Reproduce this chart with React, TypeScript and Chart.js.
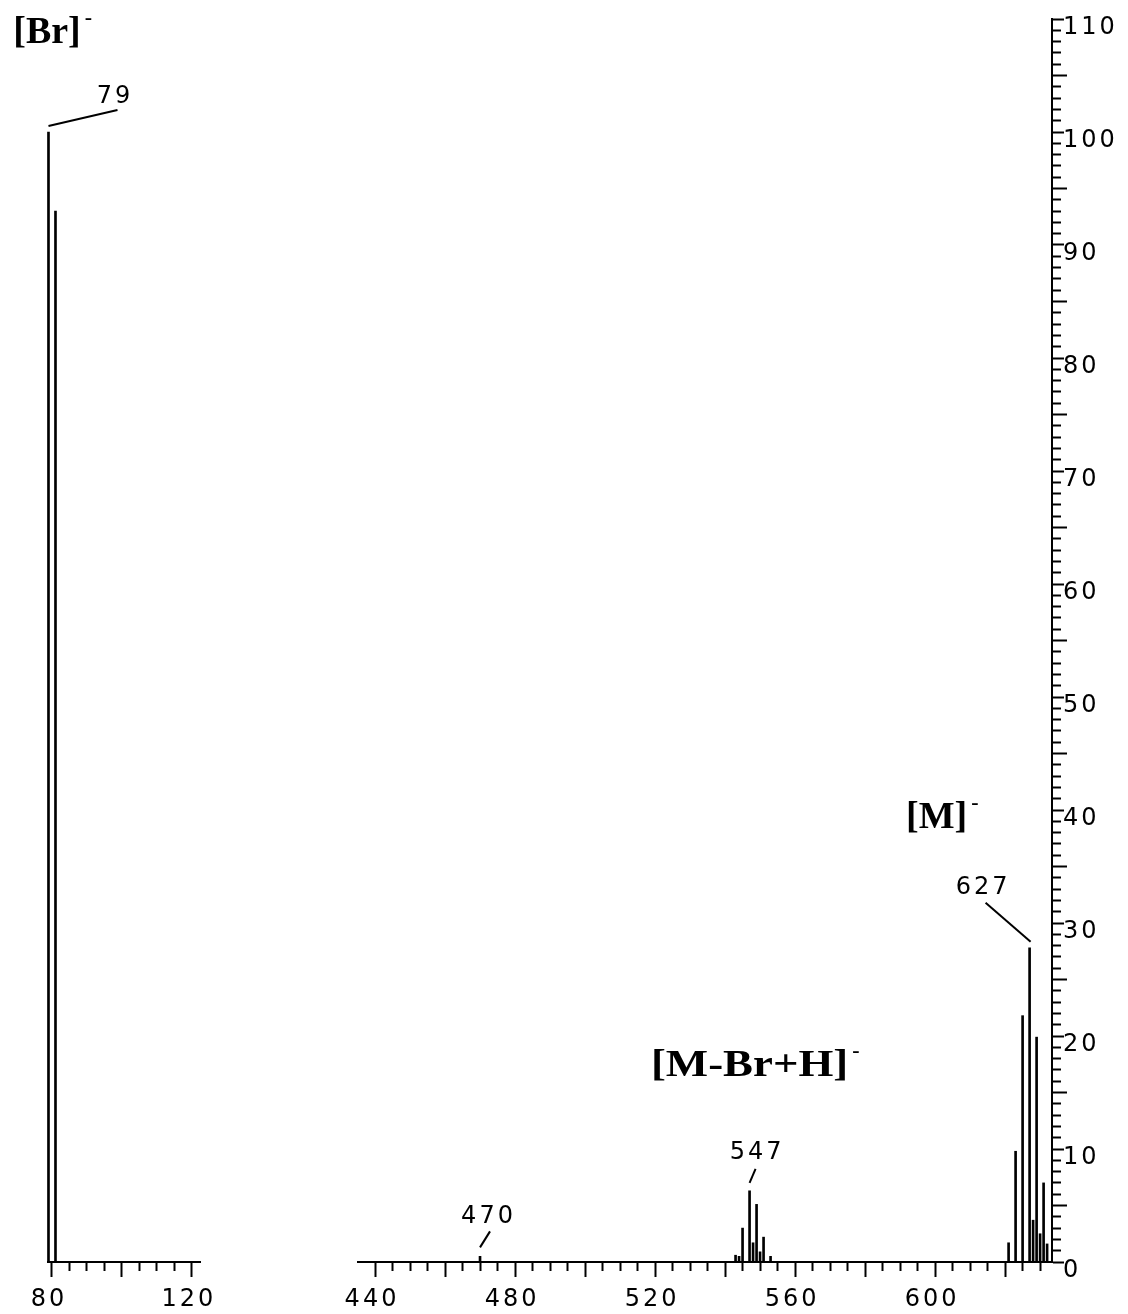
import React, { useEffect, useRef } from 'react';
import { Chart, registerables } from 'chart.js';

Chart.register(...registerables);

// ---------------- data ----------------
const lowMz: number[] = [79, 81];
const lowIntensity: number[] = [100, 93];

const highMz: number[] = [470, 543, 544, 545, 547, 548, 549, 550, 551, 553, 621, 623, 625, 627, 628, 629, 630, 631, 632];
const highIntensity: number[] = [0.5, 0.6, 0.5, 3.0, 6.3, 1.7, 5.1, 0.9, 2.2, 0.5, 1.7, 9.8, 21.8, 27.8, 3.7, 19.9, 2.5, 7.0, 1.6];

const lowTickLabels: number[] = [80, 120];
const highTickLabels: number[] = [440, 480, 520, 560, 600];
const yTickLabels: number[] = [0, 10, 20, 30, 40, 50, 60, 70, 80, 90, 100, 110];

const peakLabelMz: number[] = [79, 470, 547, 627];
const ionNames: string[] = ['[Br]', '[M-Br+H]', '[M]'];
const ionAnchorMz: number[] = [79, 547, 627];

// ---------------- layout / style ----------------
const W = 1128;
const H = 1314;
const TICK_FAMILY = '"DejaVu Sans", sans-serif';
const TICK_SIZE = 24;

// leader-line geometry relative to the peak top (px)
const leaderGeom: Record<number, { from: [number, number]; to: [number, number]; text: [number, number] }> = {
  79: { from: [0, -6], to: [69, -22], text: [65, -35] },
  470: { from: [0, -9], to: [10, -25], text: [7, -40] },
  547: { from: [0, -8], to: [6, -22], text: [6, -38] },
  627: { from: [1, -6], to: [-44, -45], text: [-48, -60] },
};
// ion label placement: x offset from anchor peak (px), baseline in intensity units, horizontal stretch
const ionPlacement: Record<string, { dx: number; yValue: number; stretch: number }> = {
  '[Br]': { dx: -1.5, yValue: 107.9, stretch: 1 },
  '[M-Br+H]': { dx: 0, yValue: 16.5, stretch: 1.18 },
  '[M]': { dx: -93, yValue: 38.4, stretch: 1 },
};

function annotationPlugin(mzList: number[], intensities: number[]) {
  return {
    id: 'spectrumAnnotations',
    beforeDraw(chart: any) {
      (chart.ctx as any).letterSpacing = '3px';
    },
    afterDraw(chart: any) {
      const ctx = chart.ctx as any;
      const xs = chart.scales.x;
      const ys = chart.scales.y;
      ctx.save();
      ctx.fillStyle = '#000';
      ctx.strokeStyle = '#000';
      ctx.lineWidth = 2;
      ctx.lineCap = 'butt';
      // peak labels with leader lines
      ctx.letterSpacing = '3px';
      ctx.font = `${TICK_SIZE}px ${TICK_FAMILY}`;
      ctx.textAlign = 'center';
      ctx.textBaseline = 'middle';
      peakLabelMz.forEach((m) => {
        const i = mzList.indexOf(m);
        if (i < 0) return;
        const px = xs.getPixelForValue(m);
        const py = ys.getPixelForValue(intensities[i]);
        const g = leaderGeom[m];
        ctx.beginPath();
        ctx.moveTo(px + g.from[0], py + g.from[1]);
        ctx.lineTo(px + g.to[0], py + g.to[1]);
        ctx.stroke();
        ctx.fillText(String(m), px + g.text[0] + 1.5, py + g.text[1]);
      });
      // ion labels
      ctx.letterSpacing = '0px';
      ionNames.forEach((name, k) => {
        const m = ionAnchorMz[k];
        if (mzList.indexOf(m) < 0) return;
        const p = ionPlacement[name];
        const cx = xs.getPixelForValue(m) + p.dx;
        const base = ys.getPixelForValue(p.yValue);
        ctx.font = 'bold 38px "Liberation Serif", "Times New Roman", serif';
        ctx.textAlign = 'center';
        ctx.textBaseline = 'alphabetic';
        const w = ctx.measureText(name).width * p.stretch;
        ctx.save();
        ctx.translate(cx, base);
        ctx.scale(p.stretch, 1);
        ctx.fillText(name, 0, 0);
        ctx.restore();
        ctx.font = 'bold 22px "Liberation Serif", "Times New Roman", serif';
        ctx.textAlign = 'left';
        ctx.fillText('-', cx + w / 2 + 4, base - 19);
      });
      ctx.restore();
      ctx.letterSpacing = '0px';
    },
  };
}

function makeConfig(kind: 'low' | 'high'): any {
  const isLow = kind === 'low';
  const mz = isLow ? lowMz : highMz;
  const inten = isLow ? lowIntensity : highIntensity;
  const xLabels = isLow ? lowTickLabels : highTickLabels;
  return {
    type: 'bar',
    data: {
      datasets: [
        {
          data: mz.map((m, i) => ({ x: m, y: inten[i] })),
          backgroundColor: '#000',
          borderWidth: 0,
          barThickness: 2,
          clip: false,
        },
      ],
    },
    options: {
      responsive: false,
      animation: false,
      devicePixelRatio: 1,
      events: [],
      layout: {
        padding: isLow
          ? { left: 48, right: W - 200, top: 19, bottom: 0 }
          : { left: 358, right: 0, top: 19, bottom: 0 },
      },
      plugins: { legend: { display: false }, tooltip: { enabled: false }, title: { display: false } },
      scales: {
        x: {
          type: 'linear',
          position: 'bottom',
          min: isLow ? 78.86 : 435.14,
          max: isLow ? 122.29 : 633.4,
          offset: false,
          afterFit: (s: any) => {
            s.height = H - 1262;
          },
          border: { display: true, color: '#000', width: 2 },
          grid: {
            display: true,
            offset: false,
            drawOnChartArea: false,
            drawTicks: true,
            tickLength: 15,
            tickWidth: 2,
            tickColor: '#000',
            tickBorderDash: (c: any) => (c.tick && c.tick.value % 20 === 0 ? [] : [8, 40]),
          },
          ticks: {
            stepSize: 5,
            autoSkip: false,
            includeBounds: false,
            maxTicksLimit: 1000,
            maxRotation: 0,
            minRotation: 0,
            color: '#000',
            padding: 8,
            labelOffset: -3,
            font: { family: TICK_FAMILY, size: TICK_SIZE },
            callback: (v: number) => (xLabels.includes(v) ? String(v) : ''),
          },
        },
        y: {
          type: 'linear',
          position: 'right',
          display: !isLow,
          min: 0,
          max: 110,
          afterFit: (s: any) => {
            s.width = isLow ? 0 : W - 1052;
          },
          border: { display: true, color: '#000', width: 2 },
          grid: {
            display: true,
            drawOnChartArea: false,
            drawTicks: true,
            tickLength: 15,
            tickWidth: 2,
            tickColor: '#000',
            tickBorderDash: (c: any) => {
              const v = c.tick ? c.tick.value : 0;
              if (v % 10 === 0) return [11, 40];
              if (v % 5 === 0) return [];
              return [8, 40];
            },
          },
          ticks: {
            stepSize: 1,
            autoSkip: false,
            includeBounds: false,
            maxTicksLimit: 1000,
            color: '#000',
            padding: -4,
            labelOffset: 9,
            font: { family: TICK_FAMILY, size: TICK_SIZE },
            callback: (v: number) => (yTickLabels.includes(v) ? String(v) : ''),
          },
        },
      },
    },
    plugins: [annotationPlugin(mz, inten)],
  };
}

export default function App() {
  const lowRef = useRef<HTMLCanvasElement>(null);
  const highRef = useRef<HTMLCanvasElement>(null);

  useEffect(() => {
    const c1 = new Chart(lowRef.current as HTMLCanvasElement, makeConfig('low'));
    const c2 = new Chart(highRef.current as HTMLCanvasElement, makeConfig('high'));
    return () => {
      c1.destroy();
      c2.destroy();
    };
  }, []);

  const canvasStyle: React.CSSProperties = { position: 'absolute', left: 0, top: 0, width: W, height: H };
  return (
    <div style={{ position: 'absolute', left: 0, top: 0, width: W, height: H, background: '#fff', overflow: 'hidden' }}>
      <canvas ref={lowRef} width={W} height={H} style={canvasStyle} />
      <canvas ref={highRef} width={W} height={H} style={canvasStyle} />
    </div>
  );
}
